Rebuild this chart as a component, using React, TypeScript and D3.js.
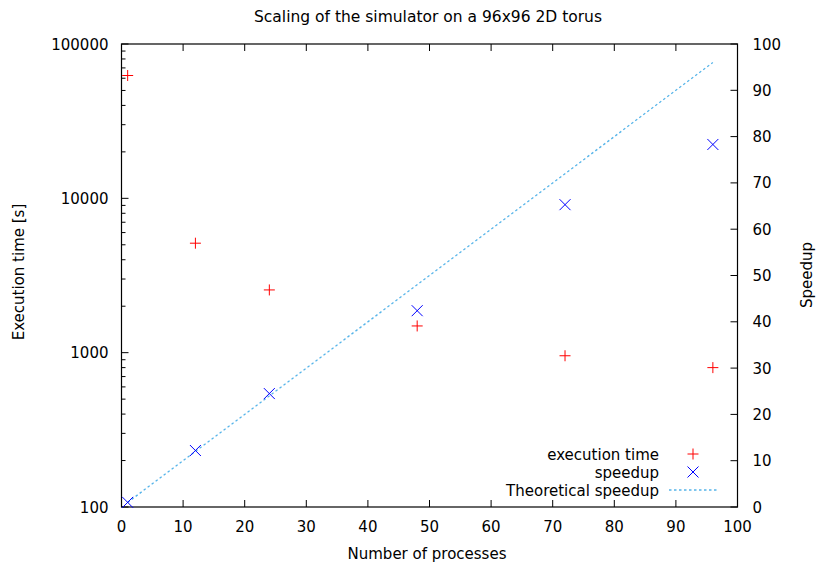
import React from "react";
import * as d3 from "d3";

const processes = [1, 12, 24, 48, 72, 96];
const execTime = [62500, 5120, 2550, 1490, 955, 800];
const speedup = [1, 12.2, 24.5, 42.4, 65.3, 78.3];
const theoretical = [1, 96];
const xTicks = [0, 10, 20, 30, 40, 50, 60, 70, 80, 90, 100];
const yTicks = [100, 1000, 10000, 100000];
const y2Ticks = [0, 10, 20, 30, 40, 50, 60, 70, 80, 90, 100];

const W = 817, H = 565;
const L = 121.5, R = 737.5, T = 44, B = 507;
const FONT = "DejaVu Sans, sans-serif";
const FS = 15;

export default function App() {
  const x = d3.scaleLinear().domain([0, 100]).range([L, R]);
  const y = d3.scaleLog().domain([100, 100000]).range([B, T]);
  const y2 = d3.scaleLinear().domain([0, 100]).range([B, T]);
  const minor: number[] = [];
  for (let d = 100; d < 100000; d *= 10) for (let k = 2; k <= 9; k++) minor.push(d * k);
  const line = d3.line<number>().x((d) => x(d)).y((d) => y2(d));
  const plus = (cx: number, cy: number, s = 5.5) => `M${cx - s},${cy}H${cx + s}M${cx},${cy - s}V${cy + s}`;
  const cross = (cx: number, cy: number, s = 5.5) => `M${cx - s},${cy - s}L${cx + s},${cy + s}M${cx - s},${cy + s}L${cx + s},${cy - s}`;
  const legend = [
    { label: "execution time", kind: "plus" },
    { label: "speedup", kind: "cross" },
    { label: "Theoretical speedup", kind: "line" },
  ];
  return (
    <svg width={W} height={H} style={{ position: "absolute", left: 0, top: 0 }} fontFamily={FONT} fontSize={FS}>
      <rect width={W} height={H} fill="#fff" />
      {xTicks.map((t) => (
        <g key={"x" + t}>
          <line x1={x(t)} x2={x(t)} y1={B} y2={B - 7} stroke="#000" />
          <line x1={x(t)} x2={x(t)} y1={T} y2={T + 7} stroke="#000" />
          <text x={x(t)} y={B + 25} textAnchor="middle">{t}</text>
        </g>
      ))}
      {yTicks.map((t) => (
        <g key={"y" + t}>
          <line x1={L} x2={L + 7} y1={y(t)} y2={y(t)} stroke="#000" />
          <text x={L - 13} y={y(t) + 5.5} textAnchor="end">{t}</text>
        </g>
      ))}
      {minor.map((t) => (
        <line key={"m" + t} x1={L} x2={L + 4} y1={y(t)} y2={y(t)} stroke="#000" />
      ))}
      {y2Ticks.map((t) => (
        <g key={"y2" + t}>
          <line x1={R} x2={R - 7} y1={y2(t)} y2={y2(t)} stroke="#000" />
          <text x={R + 15} y={y2(t) + 5.5} textAnchor="start">{t}</text>
        </g>
      ))}
      <rect x={L} y={T} width={R - L} height={B - T} fill="none" stroke="#000" strokeWidth={1.2} />
      <path d={line(theoretical) || ""} fill="none" stroke="#56b4e9" strokeWidth={1.3} strokeDasharray="2.5,2.5" />
      {processes.map((p, i) => (
        <path key={"e" + i} d={plus(x(p), y(execTime[i]))} stroke="#ff0000" strokeWidth={1} fill="none" />
      ))}
      {processes.map((p, i) => (
        <path key={"s" + i} d={cross(x(p), y2(speedup[i]))} stroke="#0000ff" strokeWidth={1} fill="none" />
      ))}
      {legend.map((l, i) => {
        const ly = 454 + i * 18;
        return (
          <g key={l.label}>
            <text x={659} y={ly + 5.5} textAnchor="end">{l.label}</text>
            {l.kind === "plus" && <path d={plus(693, ly)} stroke="#ff0000" fill="none" />}
            {l.kind === "cross" && <path d={cross(693, ly)} stroke="#0000ff" fill="none" />}
            {l.kind === "line" && (
              <line x1={669} x2={718} y1={ly} y2={ly} stroke="#56b4e9" strokeWidth={1.3} strokeDasharray="2.5,2.5" />
            )}
          </g>
        );
      })}
      <text x={428} y={22} textAnchor="middle" fontSize={15.5}>Scaling of the simulator on a 96x96 2D torus</text>
      <text x={427} y={559} textAnchor="middle">Number of processes</text>
      <text transform={`translate(24,${272}) rotate(-90)`} textAnchor="middle">Execution time [s]</text>
      <text transform={`translate(812,${275}) rotate(-90)`} textAnchor="middle">Speedup</text>
    </svg>
  );
}
